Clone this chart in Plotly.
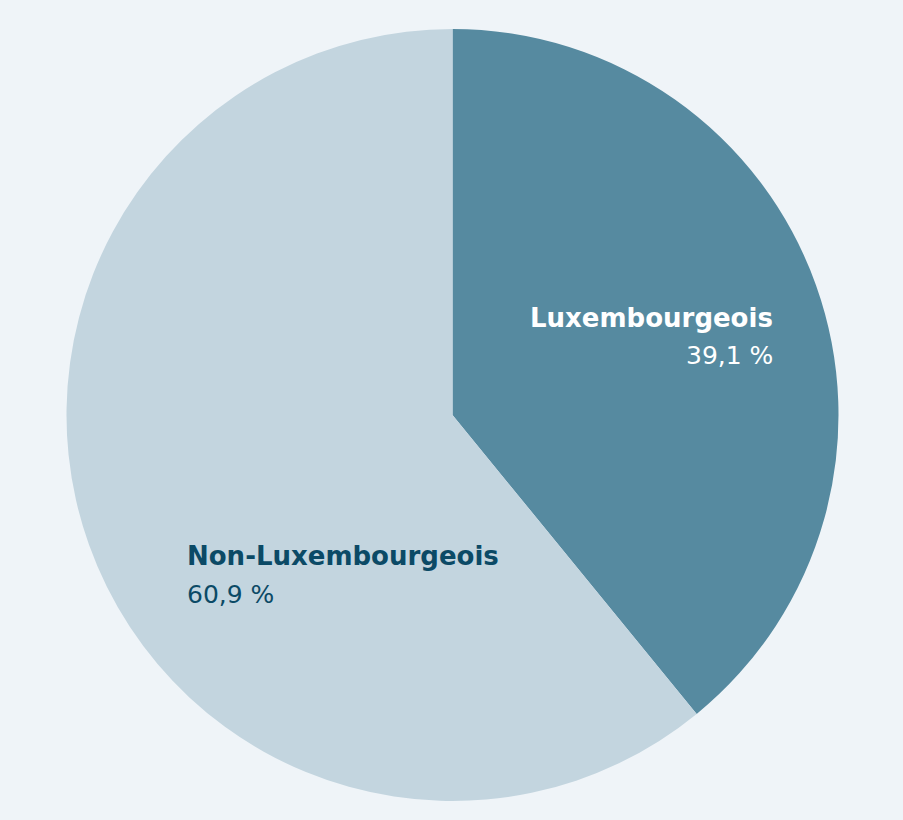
import plotly.graph_objects as go

labels = ["Luxembourgeois", "Non-Luxembourgeois"]
values = [39.1, 60.9]
value_text = ["39,1 %", "60,9 %"]
colors = ["#568AA0", "#C3D5DF"]
text_colors = ["#FFFFFF", "#0B4A66"]

W, H = 903, 820
cx, cy, r = 452.5, 415, 386

fig = go.Figure(go.Pie(
    labels=labels, values=values, sort=False, direction="clockwise", rotation=0,
    marker=dict(colors=colors, line=dict(width=0)),
    textinfo="none", hoverinfo="label+percent", showlegend=False,
    domain=dict(x=[(cx - r) / W, (cx + r) / W], y=[1 - (cy + r) / H, 1 - (cy - r) / H]),
))

FONT = "DejaVu Sans"
ann = [
    (labels[0], 775, 318, "right", text_colors[0], True),
    (value_text[0], 775, 356, "right", text_colors[0], False),
    (labels[1], 185, 556, "left", text_colors[1], True),
    (value_text[1], 185, 594, "left", text_colors[1], False),
]
for txt, x, y, anchor, col, bold in ann:
    fig.add_annotation(
        x=x / W, y=1 - y / H, xref="paper", yref="paper", xanchor=anchor, yanchor="middle",
        text=f"<b>{txt}</b>" if bold else txt, showarrow=False,
        font=dict(family=FONT, size=26 if bold else 25, color=col),
    )

fig.update_layout(
    width=W, height=H, margin=dict(l=0, r=0, t=0, b=0),
    paper_bgcolor="#EFF4F8", plot_bgcolor="#EFF4F8",
)
fig.write_html(
    "out.html",
    config={"displayModeBar": False},
    post_script="document.body.style.margin='0';document.body.style.overflow='hidden';",
)
